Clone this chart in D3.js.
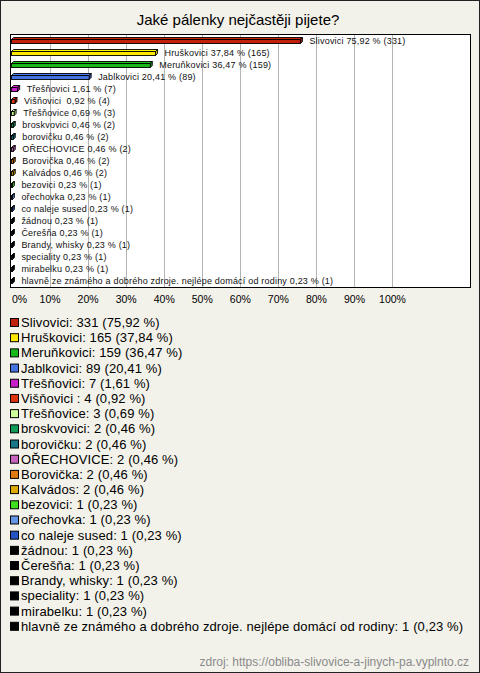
<!DOCTYPE html>
<html><head><meta charset="utf-8">
<script src="https://cdn.jsdelivr.net/npm/d3@7"></script>
<style>
html,body{margin:0;padding:0;background:#fff;}
svg text{font-family:"Liberation Sans",Arial,sans-serif;white-space:pre;}
</style></head>
<body>
<svg id="c" width="480" height="673"></svg>
<script>
const title = "Jaké pálenky nejčastěji pijete?";
const categories = ["Slivovici","Hruškovici","Meruňkovici","Jablkovici","Třešňovici","Višňovici ","Třešňovice","broskvovici","borovičku","OŘECHOVICE","Borovička","Kalvádos","bezovici","ořechovka","co naleje sused","žádnou","Čerešňa","Brandy, whisky","speciality","mirabelku","hlavně ze známého a dobrého zdroje. nejlépe domácí od rodiny"];
const counts = [331,165,159,89,7,4,3,2,2,2,2,2,1,1,1,1,1,1,1,1,1];
const percents = [75.92,37.84,36.47,20.41,1.61,0.92,0.69,0.46,0.46,0.46,0.46,0.46,0.23,0.23,0.23,0.23,0.23,0.23,0.23,0.23,0.23];
const colors = ["#c0200c","#ffe800","#18b818","#4474e0","#c81ec8","#dc3410","#ccff99","#119958","#18788a","#c864c0","#e07814","#dcaa08","#40dc20","#6494e4","#2454c4","#000000","#000000","#000000","#000000","#000000","#000000"];
const tickValues = [0,10,20,30,40,50,60,70,80,90,100];
const source = "zdroj: https://obliba-slivovice-a-jinych-pa.vyplnto.cz";

const fmt = v => v.toFixed(2).replace(".", ",");
const svg = d3.select("#c");
const W = 480, H = 673;

svg.append("rect").attr("x",0.5).attr("y",0.5).attr("width",W-1).attr("height",H-1)
  .attr("fill","#f3f2ea").attr("stroke","#222");

svg.append("text").attr("x",238).attr("y",25).attr("text-anchor","middle")
  .attr("font-size","15px").attr("fill","#000").text(title);

const plot = {l:11, r:470, t:35, b:287};
svg.append("rect").attr("x",plot.l-0.5).attr("y",plot.t-0.5)
  .attr("width",plot.r-plot.l+1).attr("height",plot.b-plot.t+1)
  .attr("fill","#fff").attr("stroke","#000");

const x = d3.scaleLinear().domain([0,100]).range([11.5,392]);
const y = d3.scaleBand().domain(categories).range([34,286]).padding(0);

// gridlines
svg.append("g").selectAll("line").data(tickValues.filter(t=>t>0)).join("line")
  .attr("x1",d=>Math.round(x(d))+0.5).attr("x2",d=>Math.round(x(d))+0.5)
  .attr("y1",plot.t).attr("y2",plot.b).attr("stroke","#b4b4b4").attr("stroke-width",1);

// axis tick labels
const axis = d3.axisBottom(x).tickValues(tickValues).tickFormat(d=>d+"%").tickSize(0).tickPadding(0);
const ax = svg.append("g").attr("transform","translate(0,296)").call(axis);
ax.select(".domain").remove();
ax.selectAll("text").attr("font-size","10.5px").attr("fill","#000")
  .attr("font-family","Liberation Sans, Arial, sans-serif").attr("dy","0.7em");
ax.selectAll(".tick").filter(d=>d===0).select("text").attr("text-anchor","start").attr("dx","0");

// bars (3D style)
const d = 2;
const rows = categories.map((c,i)=>({name:c,count:counts[i],pct:percents[i],color:colors[i]}));
const gb = svg.append("g");
rows.forEach(r=>{
  const c = y(r.name) + y.bandwidth()/2 + 0.5;
  const x0 = x(0), x1 = x(r.pct);
  const g = gb.append("g");
  const col = d3.color(r.color);
  g.append("polygon")
    .attr("points",[[x0,c-1],[x0+d,c-1-d],[x1+d,c-1-d],[x1,c-1]].join(" "))
    .attr("fill",col.brighter(0.2)).attr("stroke","#000").attr("stroke-width",0.9);
  g.append("polygon")
    .attr("points",[[x1,c-1],[x1+d,c-1-d],[x1+d,c+3-d],[x1,c+3]].join(" "))
    .attr("fill",col.darker(0.6)).attr("stroke","#000").attr("stroke-width",0.9);
  g.append("rect").attr("x",x0).attr("y",c-1).attr("width",Math.max(0,x1-x0)).attr("height",4)
    .attr("fill",r.color).attr("stroke","#000").attr("stroke-width",0.9);
  g.append("text").attr("x",x1+9).attr("y",c+3).attr("font-size","9px").attr("fill","#111")
    .attr("letter-spacing","0.2px")
    .text(`${r.name} ${fmt(r.pct)} % (${r.count})`);
});

// legend
const lg = svg.append("g");
rows.forEach((r,i)=>{
  const base = 327 + i*15.19;
  lg.append("rect").attr("x",10.5).attr("y",base-8.5).attr("width",8).attr("height",8)
    .attr("fill",r.color).attr("stroke","#000");
  lg.append("text").attr("x",21).attr("y",base).attr("font-size","13px").attr("fill","#000")
    .attr("letter-spacing","0.12px")
    .text(`${r.name}: ${r.count} (${fmt(r.pct)} %)`);
});

svg.append("text").attr("x",469).attr("y",666).attr("text-anchor","end")
  .attr("font-size","12px").attr("fill","#8a8a8a").text(source);
</script>
</body></html>
